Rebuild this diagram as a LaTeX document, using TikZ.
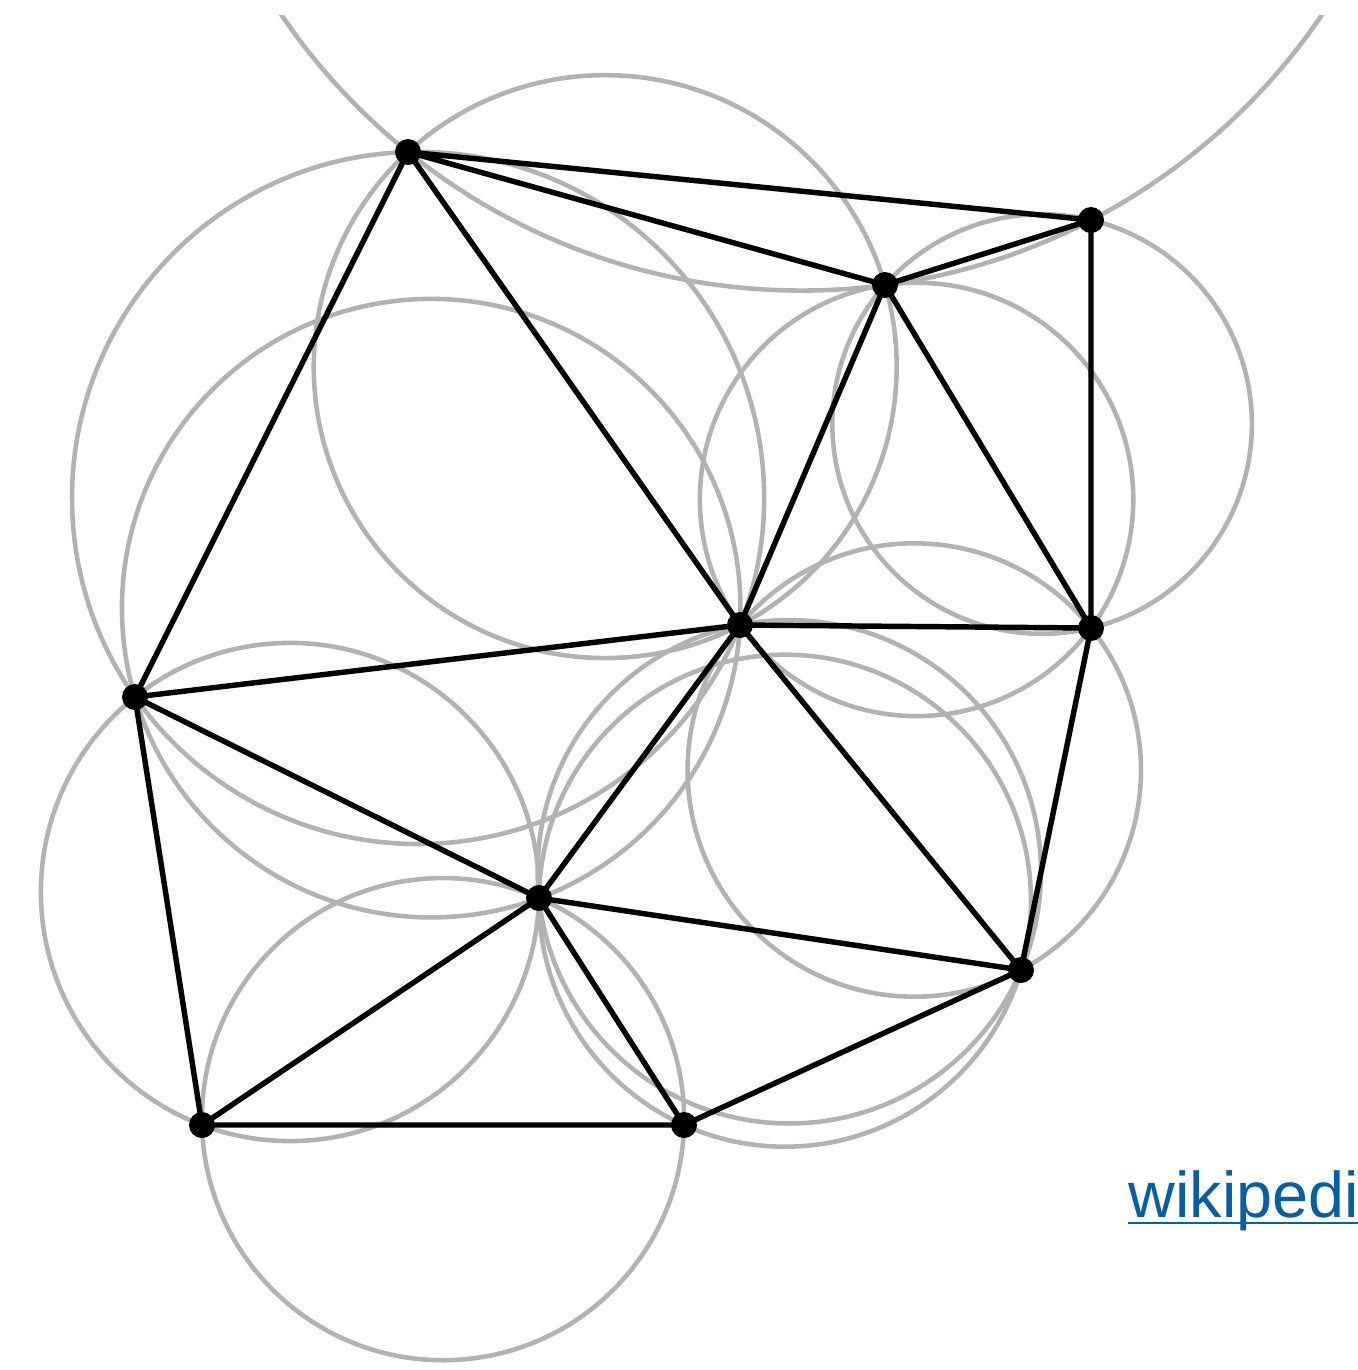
\documentclass[tikz,border=0pt]{standalone}
\usepackage{fontspec}
\setmainfont{Liberation Sans}
\definecolor{circgray}{RGB}{178,178,178}
\definecolor{linkblue}{RGB}{6,95,165}
\tikzset{
  circ/.style={draw=circgray,line width=1.3pt},
  edge/.style={draw=black,line width=1.55pt},
  pt/.style={circle,fill=black,inner sep=0pt,minimum size=0.26cm},
}
% point coordinates (1 unit = 100 px, y downwards negative)
\def\XA{4.08}\def\YA{-1.52}
\def\XB{10.91}\def\YB{-2.20}
\def\XC{8.85}\def\YC{-2.85}
\def\XD{7.40}\def\YD{-6.25}
\def\XE{10.91}\def\YE{-6.28}
\def\XF{1.35}\def\YF{-6.97}
\def\XG{5.39}\def\YG{-8.98}
\def\XH{10.21}\def\YH{-9.70}
\def\XI{2.02}\def\YI{-11.25}
\def\XJ{6.84}\def\YJ{-11.25}
\newcommand\ccirc[3]{%
  \pgfmathsetmacro\xa{\csname X#1\endcsname}\pgfmathsetmacro\ya{\csname Y#1\endcsname}%
  \pgfmathsetmacro\xb{\csname X#2\endcsname}\pgfmathsetmacro\yb{\csname Y#2\endcsname}%
  \pgfmathsetmacro\xc{\csname X#3\endcsname}\pgfmathsetmacro\yc{\csname Y#3\endcsname}%
  \pgfmathsetmacro\dd{2*(\xa*(\yb-\yc)+\xb*(\yc-\ya)+\xc*(\ya-\yb))}%
  \pgfmathsetmacro\sa{\xa*\xa+\ya*\ya}%
  \pgfmathsetmacro\sb{\xb*\xb+\yb*\yb}%
  \pgfmathsetmacro\sc{\xc*\xc+\yc*\yc}%
  \pgfmathsetmacro\ux{(\sa*(\yb-\yc)+\sb*(\yc-\ya)+\sc*(\ya-\yb))/\dd}%
  \pgfmathsetmacro\uy{(\sa*(\xc-\xb)+\sb*(\xa-\xc)+\sc*(\xb-\xa))/\dd}%
  \pgfmathsetmacro\rr{sqrt((\xa-\ux)^2+(\ya-\uy)^2)}%
  \draw[circ] (\ux,\uy) circle (\rr);%
}
\begin{document}
\begin{tikzpicture}
\useasboundingbox (0,0) rectangle (13.58,-13.70);
\begin{scope}
  \clip (0,-0.15) rectangle (13.58,-13.70);
  \ccirc{A}{B}{C}
  \ccirc{A}{C}{D}
  \ccirc{A}{D}{F}
  \ccirc{C}{D}{E}
  \ccirc{C}{B}{E}
  \ccirc{D}{E}{H}
  \ccirc{D}{G}{H}
  \ccirc{F}{D}{G}
  \ccirc{F}{G}{I}
  \ccirc{I}{G}{J}
  \ccirc{G}{J}{H}
\end{scope}
\foreach \p in {A,B,C,D,E,F,G,H,I,J}{
  \coordinate (\p) at (\csname X\p\endcsname,\csname Y\p\endcsname);
}
\draw[edge] (A)--(B) (A)--(C) (C)--(B) (B)--(E) (A)--(D) (A)--(F)
  (C)--(D) (C)--(E) (D)--(E) (F)--(D) (F)--(G) (F)--(I) (G)--(D)
  (D)--(H) (E)--(H) (G)--(H) (G)--(I) (G)--(J) (I)--(J) (J)--(H);
\foreach \p in {A,B,C,D,E,F,G,H,I,J}{
  \node[pt] (n\p) at (\p) {};
}
\node[anchor=base west,inner sep=0pt,text=linkblue,font=\fontsize{18.4pt}{21pt}\selectfont] (link) at (11.28,-12.17) {wikipedi};
\draw[linkblue,line width=0.8pt] (11.28,-12.23) -- (13.58,-12.23);
\end{tikzpicture}
\end{document}
